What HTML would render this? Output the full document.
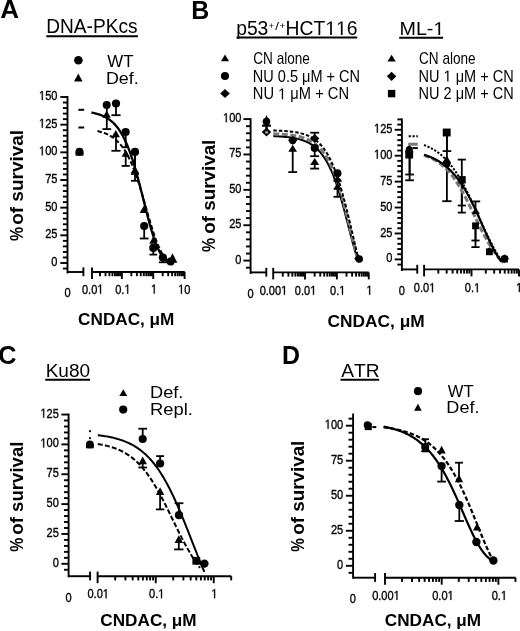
<!DOCTYPE html>
<html><head><meta charset="utf-8"><style>
html,body{margin:0;padding:0;background:#fff;}
body{width:520px;height:631px;overflow:hidden;font-family:"Liberation Sans", sans-serif;}
svg{display:block;filter:blur(0.3px);}
</style></head><body>
<svg width="520" height="631" viewBox="0 0 520 631" font-family="'Liberation Sans', sans-serif" style="font-kerning:none">
<rect width="520" height="631" fill="#fff"/>
<text transform="translate(0.25 17.6) scale(1 1)" font-size="26" font-weight="bold" fill="#000">A</text>
<text transform="translate(191.22 18.75) scale(0.96 1)" font-size="26" font-weight="bold" fill="#000">B</text>
<text transform="translate(-1.64 364) scale(0.97 1)" font-size="26" font-weight="bold" fill="#000">C</text>
<text transform="translate(281.99 363.65) scale(0.96 1)" font-size="26" font-weight="bold" fill="#000">D</text>
<text transform="translate(46.28 33.4) scale(0.99 1)" font-size="19.3" fill="#000">DNA-PKcs</text>
<line x1="46.3" y1="36.3" x2="137.9" y2="36.3" stroke="#000" stroke-width="2"/>
<text transform="translate(236.16 34.9) scale(1 1)" font-size="19.3" fill="#000">p53</text>
<text transform="translate(268.44 28.7) scale(1 1)" font-size="9.5" fill="#000">+</text>
<text transform="translate(275.3 29.6) scale(1.26 1)" font-size="10.6" fill="#000">/</text>
<text transform="translate(279.52 28.7) scale(1.04 1)" font-size="9.5" fill="#000">+</text>
<g transform="translate(285.62 34.9) scale(0.99 1)" font-size="19.5" fill="#000"><text x="0" y="0" xml:space="preserve">HCT</text><path d="M515 0L515 1237L197 1010L197 1180L530 1409L696 1409L696 0Z" transform="translate(40.08 0) scale(0.00952 -0.00952)"/><path d="M515 0L515 1237L197 1010L197 1180L530 1409L696 1409L696 0Z" transform="translate(50.92 0) scale(0.00952 -0.00952)"/><text x="61.77" y="0" xml:space="preserve">6</text></g>
<line x1="236.5" y1="37.6" x2="357.3" y2="37.6" stroke="#000" stroke-width="2"/>
<g transform="translate(399.49 35.1) scale(1.06 1)" font-size="18.6" fill="#000"><text x="0" y="0" xml:space="preserve">ML-</text><path d="M515 0L515 1237L197 1010L197 1180L530 1409L696 1409L696 0Z" transform="translate(32.03 0) scale(0.00908 -0.00908)"/></g>
<line x1="399.2" y1="37.75" x2="443.1" y2="37.75" stroke="#000" stroke-width="2"/>
<text transform="translate(45.64 376.8) scale(0.99 1)" font-size="19.2" fill="#000">Ku80</text>
<line x1="45.3" y1="379.8" x2="90" y2="379.8" stroke="#000" stroke-width="2"/>
<text transform="translate(341.26 376.8) scale(1 1)" font-size="19.2" fill="#000">ATR</text>
<line x1="340.5" y1="379.8" x2="379.2" y2="379.8" stroke="#000" stroke-width="2"/>
<circle cx="78.4" cy="60.3" r="4.3" fill="#000"/>
<text transform="translate(107.33 66.9) scale(0.98 1)" font-size="17.2" fill="#000">WT</text>
<polygon points="78.3,73.6 82.6,81.6 74,81.6" fill="#000"/>
<text transform="translate(105.94 84.1) scale(1.04 1)" font-size="17.2" fill="#000">Def.</text>
<polygon points="225,54.57 229.05,61.17 220.95,61.17" fill="#000"/>
<text transform="translate(253.31 63.5) scale(0.86 1)" font-size="15.8" fill="#000">CN alone</text>
<circle cx="225" cy="76" r="4.05" fill="#000"/>
<text transform="translate(252.8 81.6) scale(0.92 1)" font-size="15.8" fill="#000">NU 0.5 μM + CN</text>
<polygon points="225,89 229.8,93.5 225,98 220.2,93.5" fill="#000"/>
<g transform="translate(252.8 99.3) scale(0.93 1)" font-size="15.8" fill="#000"><text x="0" y="0" xml:space="preserve">NU </text><path d="M515 0L515 1237L197 1010L197 1180L530 1409L696 1409L696 0Z" transform="translate(27.21 0) scale(0.00771 -0.00771)"/><text x="36" y="0" xml:space="preserve"> μM + CN</text></g>
<polygon points="391.6,54.66 395.75,61.46 387.45,61.46" fill="#000"/>
<text transform="translate(419.01 63.5) scale(0.86 1)" font-size="15.8" fill="#000">CN alone</text>
<polygon points="391.6,71.7 396.3,76.3 391.6,80.9 386.9,76.3" fill="#000"/>
<g transform="translate(418.51 81.6) scale(0.92 1)" font-size="15.8" fill="#000"><text x="0" y="0" xml:space="preserve">NU </text><path d="M515 0L515 1237L197 1010L197 1180L530 1409L696 1409L696 0Z" transform="translate(27.21 0) scale(0.00771 -0.00771)"/><text x="36" y="0" xml:space="preserve"> μM + CN</text></g>
<rect x="387.9" y="89.9" width="7.4" height="7.4" fill="#000"/>
<text transform="translate(418.51 99.3) scale(0.92 1)" font-size="15.8" fill="#000">NU 2 μM + CN</text>
<polygon points="123.3,389.26 127.3,396.06 119.3,396.06" fill="#000"/>
<text transform="translate(150 398.2) scale(1.07 1)" font-size="17" fill="#000">Def.</text>
<circle cx="123.2" cy="409.6" r="4.1" fill="#000"/>
<text transform="translate(150 415) scale(1.08 1)" font-size="17" fill="#000">Repl.</text>
<circle cx="418" cy="391.2" r="4.1" fill="#000"/>
<text transform="translate(447.73 397) scale(1 1)" font-size="16.6" fill="#000">WT</text>
<polygon points="417.9,403.86 421.7,410.66 414.1,410.66" fill="#000"/>
<text transform="translate(446.32 412.5) scale(1.09 1)" font-size="16.6" fill="#000">Def.</text>
<text transform="translate(22.6 240.99) rotate(-90) scale(0.9 1)" font-size="17.6" font-weight="bold">%</text>
<text transform="translate(22.6 224.84) rotate(-90) scale(1.08 1)" font-size="17.6" font-weight="bold">of survival</text>
<text transform="translate(214.5 252) rotate(-90) scale(0.9 1)" font-size="17.6" font-weight="bold">%</text>
<text transform="translate(214.5 233.83) rotate(-90) scale(1.07 1)" font-size="17.6" font-weight="bold">of survival</text>
<text transform="translate(22.6 551.79) rotate(-90) scale(0.9 1)" font-size="17.6" font-weight="bold">%</text>
<text transform="translate(22.6 534.73) rotate(-90) scale(1.06 1)" font-size="17.6" font-weight="bold">of survival</text>
<text transform="translate(304 551.78) rotate(-90) scale(0.87 1)" font-size="17.6" font-weight="bold">%</text>
<text transform="translate(304 534.83) rotate(-90) scale(1.07 1)" font-size="17.6" font-weight="bold">of survival</text>
<text transform="translate(78.09 325.2) scale(1.06 1)" font-size="16.2" font-weight="bold" fill="#000">CNDAC, μM</text>
<text transform="translate(327.49 326.8) scale(1.07 1)" font-size="16.2" font-weight="bold" fill="#000">CNDAC, μM</text>
<text transform="translate(100.3 625.8) scale(1.06 1)" font-size="16.2" font-weight="bold" fill="#000">CNDAC, μM</text>
<text transform="translate(384.8 625.8) scale(1.06 1)" font-size="16.2" font-weight="bold" fill="#000">CNDAC, μM</text>
<line x1="67.5" y1="97" x2="67.5" y2="272.5" stroke="#000" stroke-width="1.9" stroke-linecap="square"/>
<line x1="62.9" y1="268.53" x2="67.5" y2="268.53" stroke="#000" stroke-width="1.9"/>
<line x1="60.3" y1="263" x2="67.5" y2="263" stroke="#000" stroke-width="1.9"/>
<text transform="translate(51.29 266.04) scale(0.85 1)" font-size="13" stroke="#000" stroke-width="0.35" stroke-linejoin="round" fill="#000">0</text>
<line x1="62.9" y1="257.47" x2="67.5" y2="257.47" stroke="#000" stroke-width="1.9"/>
<line x1="62.9" y1="251.93" x2="67.5" y2="251.93" stroke="#000" stroke-width="1.9"/>
<line x1="62.9" y1="246.4" x2="67.5" y2="246.4" stroke="#000" stroke-width="1.9"/>
<line x1="62.9" y1="240.87" x2="67.5" y2="240.87" stroke="#000" stroke-width="1.9"/>
<line x1="60.3" y1="235.33" x2="67.5" y2="235.33" stroke="#000" stroke-width="1.9"/>
<text transform="translate(45.17 238.37) scale(0.85 1)" font-size="13" stroke="#000" stroke-width="0.35" stroke-linejoin="round" fill="#000">25</text>
<line x1="62.9" y1="229.8" x2="67.5" y2="229.8" stroke="#000" stroke-width="1.9"/>
<line x1="62.9" y1="224.27" x2="67.5" y2="224.27" stroke="#000" stroke-width="1.9"/>
<line x1="62.9" y1="218.73" x2="67.5" y2="218.73" stroke="#000" stroke-width="1.9"/>
<line x1="62.9" y1="213.2" x2="67.5" y2="213.2" stroke="#000" stroke-width="1.9"/>
<line x1="60.3" y1="207.66" x2="67.5" y2="207.66" stroke="#000" stroke-width="1.9"/>
<text transform="translate(45.14 210.7) scale(0.85 1)" font-size="13" stroke="#000" stroke-width="0.35" stroke-linejoin="round" fill="#000">50</text>
<line x1="62.9" y1="202.13" x2="67.5" y2="202.13" stroke="#000" stroke-width="1.9"/>
<line x1="62.9" y1="196.6" x2="67.5" y2="196.6" stroke="#000" stroke-width="1.9"/>
<line x1="62.9" y1="191.06" x2="67.5" y2="191.06" stroke="#000" stroke-width="1.9"/>
<line x1="62.9" y1="185.53" x2="67.5" y2="185.53" stroke="#000" stroke-width="1.9"/>
<line x1="60.3" y1="180" x2="67.5" y2="180" stroke="#000" stroke-width="1.9"/>
<text transform="translate(45.17 182.97) scale(0.85 1)" font-size="13" stroke="#000" stroke-width="0.35" stroke-linejoin="round" fill="#000">75</text>
<line x1="62.9" y1="174.46" x2="67.5" y2="174.46" stroke="#000" stroke-width="1.9"/>
<line x1="62.9" y1="168.93" x2="67.5" y2="168.93" stroke="#000" stroke-width="1.9"/>
<line x1="62.9" y1="163.4" x2="67.5" y2="163.4" stroke="#000" stroke-width="1.9"/>
<line x1="62.9" y1="157.86" x2="67.5" y2="157.86" stroke="#000" stroke-width="1.9"/>
<line x1="60.3" y1="152.33" x2="67.5" y2="152.33" stroke="#000" stroke-width="1.9"/>
<g transform="translate(39 155.37) scale(0.85 1)" font-size="13" fill="#000" stroke="#000" stroke-width="0.35" stroke-linejoin="round"><path d="M515 0L515 1237L197 1010L197 1180L530 1409L696 1409L696 0Z" transform="translate(0 0) scale(0.00635 -0.00635)" stroke-width="55.14"/><text x="7.23" y="0" xml:space="preserve">00</text></g>
<line x1="62.9" y1="146.8" x2="67.5" y2="146.8" stroke="#000" stroke-width="1.9"/>
<line x1="62.9" y1="141.26" x2="67.5" y2="141.26" stroke="#000" stroke-width="1.9"/>
<line x1="62.9" y1="135.73" x2="67.5" y2="135.73" stroke="#000" stroke-width="1.9"/>
<line x1="62.9" y1="130.2" x2="67.5" y2="130.2" stroke="#000" stroke-width="1.9"/>
<line x1="60.3" y1="124.66" x2="67.5" y2="124.66" stroke="#000" stroke-width="1.9"/>
<g transform="translate(39.03 127.7) scale(0.85 1)" font-size="13" fill="#000" stroke="#000" stroke-width="0.35" stroke-linejoin="round"><path d="M515 0L515 1237L197 1010L197 1180L530 1409L696 1409L696 0Z" transform="translate(0 0) scale(0.00635 -0.00635)" stroke-width="55.14"/><text x="7.23" y="0" xml:space="preserve">25</text></g>
<line x1="62.9" y1="119.13" x2="67.5" y2="119.13" stroke="#000" stroke-width="1.9"/>
<line x1="62.9" y1="113.6" x2="67.5" y2="113.6" stroke="#000" stroke-width="1.9"/>
<line x1="62.9" y1="108.06" x2="67.5" y2="108.06" stroke="#000" stroke-width="1.9"/>
<line x1="62.9" y1="102.53" x2="67.5" y2="102.53" stroke="#000" stroke-width="1.9"/>
<line x1="60.3" y1="97" x2="67.5" y2="97" stroke="#000" stroke-width="1.9"/>
<g transform="translate(39 100.03) scale(0.85 1)" font-size="13" fill="#000" stroke="#000" stroke-width="0.35" stroke-linejoin="round"><path d="M515 0L515 1237L197 1010L197 1180L530 1409L696 1409L696 0Z" transform="translate(0 0) scale(0.00635 -0.00635)" stroke-width="55.14"/><text x="7.23" y="0" xml:space="preserve">50</text></g>
<line x1="67.5" y1="272" x2="83.4" y2="272" stroke="#000" stroke-width="1.9"/>
<line x1="83.4" y1="267.4" x2="83.4" y2="276.2" stroke="#000" stroke-width="1.9"/>
<line x1="92" y1="272" x2="184.8" y2="272" stroke="#000" stroke-width="1.9"/>
<line x1="92" y1="267.4" x2="92" y2="279" stroke="#000" stroke-width="1.9"/>
<line x1="99.99" y1="272" x2="99.99" y2="276.2" stroke="#000" stroke-width="1.9"/>
<line x1="105.51" y1="272" x2="105.51" y2="276.2" stroke="#000" stroke-width="1.9"/>
<line x1="109.42" y1="272" x2="109.42" y2="276.2" stroke="#000" stroke-width="1.9"/>
<line x1="112.46" y1="272" x2="112.46" y2="276.2" stroke="#000" stroke-width="1.9"/>
<line x1="114.95" y1="272" x2="114.95" y2="276.2" stroke="#000" stroke-width="1.9"/>
<line x1="117.04" y1="272" x2="117.04" y2="276.2" stroke="#000" stroke-width="1.9"/>
<line x1="118.86" y1="272" x2="118.86" y2="276.2" stroke="#000" stroke-width="1.9"/>
<line x1="120.47" y1="272" x2="120.47" y2="276.2" stroke="#000" stroke-width="1.9"/>
<line x1="121.9" y1="272" x2="121.9" y2="279" stroke="#000" stroke-width="1.9"/>
<line x1="131.34" y1="272" x2="131.34" y2="276.2" stroke="#000" stroke-width="1.9"/>
<line x1="136.86" y1="272" x2="136.86" y2="276.2" stroke="#000" stroke-width="1.9"/>
<line x1="140.77" y1="272" x2="140.77" y2="276.2" stroke="#000" stroke-width="1.9"/>
<line x1="143.81" y1="272" x2="143.81" y2="276.2" stroke="#000" stroke-width="1.9"/>
<line x1="146.3" y1="272" x2="146.3" y2="276.2" stroke="#000" stroke-width="1.9"/>
<line x1="148.39" y1="272" x2="148.39" y2="276.2" stroke="#000" stroke-width="1.9"/>
<line x1="150.21" y1="272" x2="150.21" y2="276.2" stroke="#000" stroke-width="1.9"/>
<line x1="151.82" y1="272" x2="151.82" y2="276.2" stroke="#000" stroke-width="1.9"/>
<line x1="153.25" y1="272" x2="153.25" y2="279" stroke="#000" stroke-width="1.9"/>
<line x1="162.69" y1="272" x2="162.69" y2="276.2" stroke="#000" stroke-width="1.9"/>
<line x1="168.21" y1="272" x2="168.21" y2="276.2" stroke="#000" stroke-width="1.9"/>
<line x1="172.12" y1="272" x2="172.12" y2="276.2" stroke="#000" stroke-width="1.9"/>
<line x1="175.16" y1="272" x2="175.16" y2="276.2" stroke="#000" stroke-width="1.9"/>
<line x1="177.65" y1="272" x2="177.65" y2="276.2" stroke="#000" stroke-width="1.9"/>
<line x1="179.74" y1="272" x2="179.74" y2="276.2" stroke="#000" stroke-width="1.9"/>
<line x1="181.56" y1="272" x2="181.56" y2="276.2" stroke="#000" stroke-width="1.9"/>
<line x1="183.17" y1="272" x2="183.17" y2="276.2" stroke="#000" stroke-width="1.9"/>
<line x1="184.6" y1="272" x2="184.6" y2="279" stroke="#000" stroke-width="1.9"/>
<text transform="translate(64.43 297.04) scale(0.85 1)" font-size="13" stroke="#000" stroke-width="0.35" stroke-linejoin="round" fill="#000">0</text>
<g transform="translate(81.93 293.64) scale(0.85 1)" font-size="13" fill="#000" stroke="#000" stroke-width="0.35" stroke-linejoin="round"><text x="0" y="0" xml:space="preserve">0.0</text><path d="M515 0L515 1237L197 1010L197 1180L530 1409L696 1409L696 0Z" transform="translate(18.07 0) scale(0.00635 -0.00635)" stroke-width="55.14"/></g>
<g transform="translate(115.2 293.64) scale(0.85 1)" font-size="13" fill="#000" stroke="#000" stroke-width="0.35" stroke-linejoin="round"><text x="0" y="0" xml:space="preserve">0.</text><path d="M515 0L515 1237L197 1010L197 1180L530 1409L696 1409L696 0Z" transform="translate(10.84 0) scale(0.00635 -0.00635)" stroke-width="55.14"/></g>
<g transform="translate(150.99 293.57) scale(0.85 1)" font-size="13" fill="#000" stroke="#000" stroke-width="0.35" stroke-linejoin="round"><path d="M515 0L515 1237L197 1010L197 1180L530 1409L696 1409L696 0Z" transform="translate(0 0) scale(0.00635 -0.00635)" stroke-width="55.14"/></g>
<g transform="translate(178.14 293.64) scale(0.85 1)" font-size="13" fill="#000" stroke="#000" stroke-width="0.35" stroke-linejoin="round"><path d="M515 0L515 1237L197 1010L197 1180L530 1409L696 1409L696 0Z" transform="translate(0 0) scale(0.00635 -0.00635)" stroke-width="55.14"/><text x="7.23" y="0" xml:space="preserve">0</text></g>
<line x1="250.6" y1="119.1" x2="250.6" y2="273" stroke="#000" stroke-width="1.9" stroke-linecap="square"/>
<line x1="246" y1="267.68" x2="250.6" y2="267.68" stroke="#000" stroke-width="1.9"/>
<line x1="243.4" y1="260.6" x2="250.6" y2="260.6" stroke="#000" stroke-width="1.9"/>
<text transform="translate(235.29 263.64) scale(0.85 1)" font-size="13" stroke="#000" stroke-width="0.35" stroke-linejoin="round" fill="#000">0</text>
<line x1="246" y1="253.53" x2="250.6" y2="253.53" stroke="#000" stroke-width="1.9"/>
<line x1="246" y1="246.45" x2="250.6" y2="246.45" stroke="#000" stroke-width="1.9"/>
<line x1="246" y1="239.38" x2="250.6" y2="239.38" stroke="#000" stroke-width="1.9"/>
<line x1="246" y1="232.3" x2="250.6" y2="232.3" stroke="#000" stroke-width="1.9"/>
<line x1="243.4" y1="225.23" x2="250.6" y2="225.23" stroke="#000" stroke-width="1.9"/>
<text transform="translate(229.17 228.26) scale(0.85 1)" font-size="13" stroke="#000" stroke-width="0.35" stroke-linejoin="round" fill="#000">25</text>
<line x1="246" y1="218.15" x2="250.6" y2="218.15" stroke="#000" stroke-width="1.9"/>
<line x1="246" y1="211.08" x2="250.6" y2="211.08" stroke="#000" stroke-width="1.9"/>
<line x1="246" y1="204" x2="250.6" y2="204" stroke="#000" stroke-width="1.9"/>
<line x1="246" y1="196.93" x2="250.6" y2="196.93" stroke="#000" stroke-width="1.9"/>
<line x1="243.4" y1="189.85" x2="250.6" y2="189.85" stroke="#000" stroke-width="1.9"/>
<text transform="translate(229.14 192.89) scale(0.85 1)" font-size="13" stroke="#000" stroke-width="0.35" stroke-linejoin="round" fill="#000">50</text>
<line x1="246" y1="182.78" x2="250.6" y2="182.78" stroke="#000" stroke-width="1.9"/>
<line x1="246" y1="175.7" x2="250.6" y2="175.7" stroke="#000" stroke-width="1.9"/>
<line x1="246" y1="168.62" x2="250.6" y2="168.62" stroke="#000" stroke-width="1.9"/>
<line x1="246" y1="161.55" x2="250.6" y2="161.55" stroke="#000" stroke-width="1.9"/>
<line x1="243.4" y1="154.48" x2="250.6" y2="154.48" stroke="#000" stroke-width="1.9"/>
<text transform="translate(229.17 157.45) scale(0.85 1)" font-size="13" stroke="#000" stroke-width="0.35" stroke-linejoin="round" fill="#000">75</text>
<line x1="246" y1="147.4" x2="250.6" y2="147.4" stroke="#000" stroke-width="1.9"/>
<line x1="246" y1="140.33" x2="250.6" y2="140.33" stroke="#000" stroke-width="1.9"/>
<line x1="246" y1="133.25" x2="250.6" y2="133.25" stroke="#000" stroke-width="1.9"/>
<line x1="246" y1="126.18" x2="250.6" y2="126.18" stroke="#000" stroke-width="1.9"/>
<line x1="243.4" y1="119.1" x2="250.6" y2="119.1" stroke="#000" stroke-width="1.9"/>
<g transform="translate(223 122.14) scale(0.85 1)" font-size="13" fill="#000" stroke="#000" stroke-width="0.35" stroke-linejoin="round"><path d="M515 0L515 1237L197 1010L197 1180L530 1409L696 1409L696 0Z" transform="translate(0 0) scale(0.00635 -0.00635)" stroke-width="55.14"/><text x="7.23" y="0" xml:space="preserve">00</text></g>
<line x1="250.6" y1="272.4" x2="266.3" y2="272.4" stroke="#000" stroke-width="1.9"/>
<line x1="266.3" y1="267.8" x2="266.3" y2="276.6" stroke="#000" stroke-width="1.9"/>
<line x1="273.2" y1="272.4" x2="368.75" y2="272.4" stroke="#000" stroke-width="1.9"/>
<line x1="273.2" y1="267.8" x2="273.2" y2="279.4" stroke="#000" stroke-width="1.9"/>
<line x1="282.79" y1="272.4" x2="282.79" y2="276.6" stroke="#000" stroke-width="1.9"/>
<line x1="288.4" y1="272.4" x2="288.4" y2="276.6" stroke="#000" stroke-width="1.9"/>
<line x1="292.38" y1="272.4" x2="292.38" y2="276.6" stroke="#000" stroke-width="1.9"/>
<line x1="295.46" y1="272.4" x2="295.46" y2="276.6" stroke="#000" stroke-width="1.9"/>
<line x1="297.98" y1="272.4" x2="297.98" y2="276.6" stroke="#000" stroke-width="1.9"/>
<line x1="300.12" y1="272.4" x2="300.12" y2="276.6" stroke="#000" stroke-width="1.9"/>
<line x1="301.96" y1="272.4" x2="301.96" y2="276.6" stroke="#000" stroke-width="1.9"/>
<line x1="303.59" y1="272.4" x2="303.59" y2="276.6" stroke="#000" stroke-width="1.9"/>
<line x1="305.05" y1="272.4" x2="305.05" y2="279.4" stroke="#000" stroke-width="1.9"/>
<line x1="314.64" y1="272.4" x2="314.64" y2="276.6" stroke="#000" stroke-width="1.9"/>
<line x1="320.25" y1="272.4" x2="320.25" y2="276.6" stroke="#000" stroke-width="1.9"/>
<line x1="324.23" y1="272.4" x2="324.23" y2="276.6" stroke="#000" stroke-width="1.9"/>
<line x1="327.31" y1="272.4" x2="327.31" y2="276.6" stroke="#000" stroke-width="1.9"/>
<line x1="329.83" y1="272.4" x2="329.83" y2="276.6" stroke="#000" stroke-width="1.9"/>
<line x1="331.97" y1="272.4" x2="331.97" y2="276.6" stroke="#000" stroke-width="1.9"/>
<line x1="333.81" y1="272.4" x2="333.81" y2="276.6" stroke="#000" stroke-width="1.9"/>
<line x1="335.44" y1="272.4" x2="335.44" y2="276.6" stroke="#000" stroke-width="1.9"/>
<line x1="336.9" y1="272.4" x2="336.9" y2="279.4" stroke="#000" stroke-width="1.9"/>
<line x1="346.49" y1="272.4" x2="346.49" y2="276.6" stroke="#000" stroke-width="1.9"/>
<line x1="352.1" y1="272.4" x2="352.1" y2="276.6" stroke="#000" stroke-width="1.9"/>
<line x1="356.08" y1="272.4" x2="356.08" y2="276.6" stroke="#000" stroke-width="1.9"/>
<line x1="359.16" y1="272.4" x2="359.16" y2="276.6" stroke="#000" stroke-width="1.9"/>
<line x1="361.68" y1="272.4" x2="361.68" y2="276.6" stroke="#000" stroke-width="1.9"/>
<line x1="363.82" y1="272.4" x2="363.82" y2="276.6" stroke="#000" stroke-width="1.9"/>
<line x1="365.66" y1="272.4" x2="365.66" y2="276.6" stroke="#000" stroke-width="1.9"/>
<line x1="367.29" y1="272.4" x2="367.29" y2="276.6" stroke="#000" stroke-width="1.9"/>
<line x1="368.75" y1="272.4" x2="368.75" y2="279.4" stroke="#000" stroke-width="1.9"/>
<text transform="translate(247.43 298.24) scale(0.85 1)" font-size="13" stroke="#000" stroke-width="0.35" stroke-linejoin="round" fill="#000">0</text>
<g transform="translate(259.65 294.84) scale(0.85 1)" font-size="13" fill="#000" stroke="#000" stroke-width="0.35" stroke-linejoin="round"><text x="0" y="0" xml:space="preserve">0.00</text><path d="M515 0L515 1237L197 1010L197 1180L530 1409L696 1409L696 0Z" transform="translate(25.3 0) scale(0.00635 -0.00635)" stroke-width="55.14"/></g>
<g transform="translate(294.83 294.84) scale(0.85 1)" font-size="13" fill="#000" stroke="#000" stroke-width="0.35" stroke-linejoin="round"><text x="0" y="0" xml:space="preserve">0.0</text><path d="M515 0L515 1237L197 1010L197 1180L530 1409L696 1409L696 0Z" transform="translate(18.07 0) scale(0.00635 -0.00635)" stroke-width="55.14"/></g>
<g transform="translate(330 294.84) scale(0.85 1)" font-size="13" fill="#000" stroke="#000" stroke-width="0.35" stroke-linejoin="round"><text x="0" y="0" xml:space="preserve">0.</text><path d="M515 0L515 1237L197 1010L197 1180L530 1409L696 1409L696 0Z" transform="translate(10.84 0) scale(0.00635 -0.00635)" stroke-width="55.14"/></g>
<g transform="translate(366.39 294.77) scale(0.85 1)" font-size="13" fill="#000" stroke="#000" stroke-width="0.35" stroke-linejoin="round"><path d="M515 0L515 1237L197 1010L197 1180L530 1409L696 1409L696 0Z" transform="translate(0 0) scale(0.00635 -0.00635)" stroke-width="55.14"/></g>
<line x1="401.9" y1="119.41" x2="401.9" y2="270" stroke="#000" stroke-width="1.9" stroke-linecap="square"/>
<line x1="397.3" y1="264.58" x2="401.9" y2="264.58" stroke="#000" stroke-width="1.9"/>
<line x1="394.7" y1="259.4" x2="401.9" y2="259.4" stroke="#000" stroke-width="1.9"/>
<text transform="translate(386.29 262.44) scale(0.85 1)" font-size="13" stroke="#000" stroke-width="0.35" stroke-linejoin="round" fill="#000">0</text>
<line x1="397.3" y1="254.21" x2="401.9" y2="254.21" stroke="#000" stroke-width="1.9"/>
<line x1="397.3" y1="249.03" x2="401.9" y2="249.03" stroke="#000" stroke-width="1.9"/>
<line x1="397.3" y1="243.84" x2="401.9" y2="243.84" stroke="#000" stroke-width="1.9"/>
<line x1="397.3" y1="238.66" x2="401.9" y2="238.66" stroke="#000" stroke-width="1.9"/>
<line x1="394.7" y1="233.47" x2="401.9" y2="233.47" stroke="#000" stroke-width="1.9"/>
<text transform="translate(380.17 236.51) scale(0.85 1)" font-size="13" stroke="#000" stroke-width="0.35" stroke-linejoin="round" fill="#000">25</text>
<line x1="397.3" y1="228.29" x2="401.9" y2="228.29" stroke="#000" stroke-width="1.9"/>
<line x1="397.3" y1="223.1" x2="401.9" y2="223.1" stroke="#000" stroke-width="1.9"/>
<line x1="397.3" y1="217.92" x2="401.9" y2="217.92" stroke="#000" stroke-width="1.9"/>
<line x1="397.3" y1="212.73" x2="401.9" y2="212.73" stroke="#000" stroke-width="1.9"/>
<line x1="394.7" y1="207.55" x2="401.9" y2="207.55" stroke="#000" stroke-width="1.9"/>
<text transform="translate(380.14 210.59) scale(0.85 1)" font-size="13" stroke="#000" stroke-width="0.35" stroke-linejoin="round" fill="#000">50</text>
<line x1="397.3" y1="202.36" x2="401.9" y2="202.36" stroke="#000" stroke-width="1.9"/>
<line x1="397.3" y1="197.18" x2="401.9" y2="197.18" stroke="#000" stroke-width="1.9"/>
<line x1="397.3" y1="191.99" x2="401.9" y2="191.99" stroke="#000" stroke-width="1.9"/>
<line x1="397.3" y1="186.81" x2="401.9" y2="186.81" stroke="#000" stroke-width="1.9"/>
<line x1="394.7" y1="181.62" x2="401.9" y2="181.62" stroke="#000" stroke-width="1.9"/>
<text transform="translate(380.17 184.6) scale(0.85 1)" font-size="13" stroke="#000" stroke-width="0.35" stroke-linejoin="round" fill="#000">75</text>
<line x1="397.3" y1="176.44" x2="401.9" y2="176.44" stroke="#000" stroke-width="1.9"/>
<line x1="397.3" y1="171.25" x2="401.9" y2="171.25" stroke="#000" stroke-width="1.9"/>
<line x1="397.3" y1="166.07" x2="401.9" y2="166.07" stroke="#000" stroke-width="1.9"/>
<line x1="397.3" y1="160.88" x2="401.9" y2="160.88" stroke="#000" stroke-width="1.9"/>
<line x1="394.7" y1="155.7" x2="401.9" y2="155.7" stroke="#000" stroke-width="1.9"/>
<g transform="translate(374 158.74) scale(0.85 1)" font-size="13" fill="#000" stroke="#000" stroke-width="0.35" stroke-linejoin="round"><path d="M515 0L515 1237L197 1010L197 1180L530 1409L696 1409L696 0Z" transform="translate(0 0) scale(0.00635 -0.00635)" stroke-width="55.14"/><text x="7.23" y="0" xml:space="preserve">00</text></g>
<line x1="397.3" y1="150.51" x2="401.9" y2="150.51" stroke="#000" stroke-width="1.9"/>
<line x1="397.3" y1="145.33" x2="401.9" y2="145.33" stroke="#000" stroke-width="1.9"/>
<line x1="397.3" y1="140.14" x2="401.9" y2="140.14" stroke="#000" stroke-width="1.9"/>
<line x1="397.3" y1="134.96" x2="401.9" y2="134.96" stroke="#000" stroke-width="1.9"/>
<line x1="394.7" y1="129.77" x2="401.9" y2="129.77" stroke="#000" stroke-width="1.9"/>
<g transform="translate(374.03 132.81) scale(0.85 1)" font-size="13" fill="#000" stroke="#000" stroke-width="0.35" stroke-linejoin="round"><path d="M515 0L515 1237L197 1010L197 1180L530 1409L696 1409L696 0Z" transform="translate(0 0) scale(0.00635 -0.00635)" stroke-width="55.14"/><text x="7.23" y="0" xml:space="preserve">25</text></g>
<line x1="397.3" y1="124.59" x2="401.9" y2="124.59" stroke="#000" stroke-width="1.9"/>
<line x1="397.3" y1="119.41" x2="401.9" y2="119.41" stroke="#000" stroke-width="1.9"/>
<line x1="401.9" y1="269.4" x2="417.25" y2="269.4" stroke="#000" stroke-width="1.9"/>
<line x1="417.25" y1="264.8" x2="417.25" y2="273.6" stroke="#000" stroke-width="1.9"/>
<line x1="424.1" y1="269.4" x2="519" y2="269.4" stroke="#000" stroke-width="1.9"/>
<line x1="424.1" y1="264.8" x2="424.1" y2="276.4" stroke="#000" stroke-width="1.9"/>
<line x1="438.3" y1="269.4" x2="438.3" y2="273.6" stroke="#000" stroke-width="1.9"/>
<line x1="446.66" y1="269.4" x2="446.66" y2="273.6" stroke="#000" stroke-width="1.9"/>
<line x1="452.6" y1="269.4" x2="452.6" y2="273.6" stroke="#000" stroke-width="1.9"/>
<line x1="457.2" y1="269.4" x2="457.2" y2="273.6" stroke="#000" stroke-width="1.9"/>
<line x1="460.96" y1="269.4" x2="460.96" y2="273.6" stroke="#000" stroke-width="1.9"/>
<line x1="464.14" y1="269.4" x2="464.14" y2="273.6" stroke="#000" stroke-width="1.9"/>
<line x1="466.9" y1="269.4" x2="466.9" y2="273.6" stroke="#000" stroke-width="1.9"/>
<line x1="469.33" y1="269.4" x2="469.33" y2="273.6" stroke="#000" stroke-width="1.9"/>
<line x1="471.5" y1="269.4" x2="471.5" y2="276.4" stroke="#000" stroke-width="1.9"/>
<line x1="485.8" y1="269.4" x2="485.8" y2="273.6" stroke="#000" stroke-width="1.9"/>
<line x1="494.16" y1="269.4" x2="494.16" y2="273.6" stroke="#000" stroke-width="1.9"/>
<line x1="500.1" y1="269.4" x2="500.1" y2="273.6" stroke="#000" stroke-width="1.9"/>
<line x1="504.7" y1="269.4" x2="504.7" y2="273.6" stroke="#000" stroke-width="1.9"/>
<line x1="508.46" y1="269.4" x2="508.46" y2="273.6" stroke="#000" stroke-width="1.9"/>
<line x1="511.64" y1="269.4" x2="511.64" y2="273.6" stroke="#000" stroke-width="1.9"/>
<line x1="514.4" y1="269.4" x2="514.4" y2="273.6" stroke="#000" stroke-width="1.9"/>
<line x1="516.83" y1="269.4" x2="516.83" y2="273.6" stroke="#000" stroke-width="1.9"/>
<line x1="519" y1="269.4" x2="519" y2="276.4" stroke="#000" stroke-width="1.9"/>
<text transform="translate(398.83 294.84) scale(0.85 1)" font-size="13" stroke="#000" stroke-width="0.35" stroke-linejoin="round" fill="#000">0</text>
<g transform="translate(413.83 292.14) scale(0.85 1)" font-size="13" fill="#000" stroke="#000" stroke-width="0.35" stroke-linejoin="round"><text x="0" y="0" xml:space="preserve">0.0</text><path d="M515 0L515 1237L197 1010L197 1180L530 1409L696 1409L696 0Z" transform="translate(18.07 0) scale(0.00635 -0.00635)" stroke-width="55.14"/></g>
<g transform="translate(464.8 292.14) scale(0.85 1)" font-size="13" fill="#000" stroke="#000" stroke-width="0.35" stroke-linejoin="round"><text x="0" y="0" xml:space="preserve">0.</text><path d="M515 0L515 1237L197 1010L197 1180L530 1409L696 1409L696 0Z" transform="translate(10.84 0) scale(0.00635 -0.00635)" stroke-width="55.14"/></g>
<g transform="translate(516.09 292.07) scale(0.85 1)" font-size="13" fill="#000" stroke="#000" stroke-width="0.35" stroke-linejoin="round"><path d="M515 0L515 1237L197 1010L197 1180L530 1409L696 1409L696 0Z" transform="translate(0 0) scale(0.00635 -0.00635)" stroke-width="55.14"/></g>
<line x1="68.6" y1="414.55" x2="68.6" y2="576.3" stroke="#000" stroke-width="1.9" stroke-linecap="square"/>
<line x1="64" y1="569.77" x2="68.6" y2="569.77" stroke="#000" stroke-width="1.9"/>
<line x1="61.4" y1="563.8" x2="68.6" y2="563.8" stroke="#000" stroke-width="1.9"/>
<text transform="translate(52.69 566.84) scale(0.85 1)" font-size="13" stroke="#000" stroke-width="0.35" stroke-linejoin="round" fill="#000">0</text>
<line x1="64" y1="557.83" x2="68.6" y2="557.83" stroke="#000" stroke-width="1.9"/>
<line x1="64" y1="551.86" x2="68.6" y2="551.86" stroke="#000" stroke-width="1.9"/>
<line x1="64" y1="545.89" x2="68.6" y2="545.89" stroke="#000" stroke-width="1.9"/>
<line x1="64" y1="539.92" x2="68.6" y2="539.92" stroke="#000" stroke-width="1.9"/>
<line x1="61.4" y1="533.95" x2="68.6" y2="533.95" stroke="#000" stroke-width="1.9"/>
<text transform="translate(46.57 536.99) scale(0.85 1)" font-size="13" stroke="#000" stroke-width="0.35" stroke-linejoin="round" fill="#000">25</text>
<line x1="64" y1="527.98" x2="68.6" y2="527.98" stroke="#000" stroke-width="1.9"/>
<line x1="64" y1="522.01" x2="68.6" y2="522.01" stroke="#000" stroke-width="1.9"/>
<line x1="64" y1="516.04" x2="68.6" y2="516.04" stroke="#000" stroke-width="1.9"/>
<line x1="64" y1="510.07" x2="68.6" y2="510.07" stroke="#000" stroke-width="1.9"/>
<line x1="61.4" y1="504.1" x2="68.6" y2="504.1" stroke="#000" stroke-width="1.9"/>
<text transform="translate(46.54 507.14) scale(0.85 1)" font-size="13" stroke="#000" stroke-width="0.35" stroke-linejoin="round" fill="#000">50</text>
<line x1="64" y1="498.13" x2="68.6" y2="498.13" stroke="#000" stroke-width="1.9"/>
<line x1="64" y1="492.16" x2="68.6" y2="492.16" stroke="#000" stroke-width="1.9"/>
<line x1="64" y1="486.19" x2="68.6" y2="486.19" stroke="#000" stroke-width="1.9"/>
<line x1="64" y1="480.22" x2="68.6" y2="480.22" stroke="#000" stroke-width="1.9"/>
<line x1="61.4" y1="474.25" x2="68.6" y2="474.25" stroke="#000" stroke-width="1.9"/>
<text transform="translate(46.57 477.22) scale(0.85 1)" font-size="13" stroke="#000" stroke-width="0.35" stroke-linejoin="round" fill="#000">75</text>
<line x1="64" y1="468.28" x2="68.6" y2="468.28" stroke="#000" stroke-width="1.9"/>
<line x1="64" y1="462.31" x2="68.6" y2="462.31" stroke="#000" stroke-width="1.9"/>
<line x1="64" y1="456.34" x2="68.6" y2="456.34" stroke="#000" stroke-width="1.9"/>
<line x1="64" y1="450.37" x2="68.6" y2="450.37" stroke="#000" stroke-width="1.9"/>
<line x1="61.4" y1="444.4" x2="68.6" y2="444.4" stroke="#000" stroke-width="1.9"/>
<g transform="translate(40.4 447.44) scale(0.85 1)" font-size="13" fill="#000" stroke="#000" stroke-width="0.35" stroke-linejoin="round"><path d="M515 0L515 1237L197 1010L197 1180L530 1409L696 1409L696 0Z" transform="translate(0 0) scale(0.00635 -0.00635)" stroke-width="55.14"/><text x="7.23" y="0" xml:space="preserve">00</text></g>
<line x1="64" y1="438.43" x2="68.6" y2="438.43" stroke="#000" stroke-width="1.9"/>
<line x1="64" y1="432.46" x2="68.6" y2="432.46" stroke="#000" stroke-width="1.9"/>
<line x1="64" y1="426.49" x2="68.6" y2="426.49" stroke="#000" stroke-width="1.9"/>
<line x1="64" y1="420.52" x2="68.6" y2="420.52" stroke="#000" stroke-width="1.9"/>
<line x1="61.4" y1="414.55" x2="68.6" y2="414.55" stroke="#000" stroke-width="1.9"/>
<g transform="translate(40.43 417.59) scale(0.85 1)" font-size="13" fill="#000" stroke="#000" stroke-width="0.35" stroke-linejoin="round"><path d="M515 0L515 1237L197 1010L197 1180L530 1409L696 1409L696 0Z" transform="translate(0 0) scale(0.00635 -0.00635)" stroke-width="55.14"/><text x="7.23" y="0" xml:space="preserve">25</text></g>
<line x1="68.6" y1="576.2" x2="90.1" y2="576.2" stroke="#000" stroke-width="1.9"/>
<line x1="90.1" y1="571.6" x2="90.1" y2="580.4" stroke="#000" stroke-width="1.9"/>
<line x1="97.6" y1="576.2" x2="231.25" y2="576.2" stroke="#000" stroke-width="1.9"/>
<line x1="97.6" y1="571.6" x2="97.6" y2="583.2" stroke="#000" stroke-width="1.9"/>
<line x1="115.21" y1="576.2" x2="115.21" y2="580.4" stroke="#000" stroke-width="1.9"/>
<line x1="125.42" y1="576.2" x2="125.42" y2="580.4" stroke="#000" stroke-width="1.9"/>
<line x1="132.67" y1="576.2" x2="132.67" y2="580.4" stroke="#000" stroke-width="1.9"/>
<line x1="138.29" y1="576.2" x2="138.29" y2="580.4" stroke="#000" stroke-width="1.9"/>
<line x1="142.88" y1="576.2" x2="142.88" y2="580.4" stroke="#000" stroke-width="1.9"/>
<line x1="146.77" y1="576.2" x2="146.77" y2="580.4" stroke="#000" stroke-width="1.9"/>
<line x1="150.13" y1="576.2" x2="150.13" y2="580.4" stroke="#000" stroke-width="1.9"/>
<line x1="153.1" y1="576.2" x2="153.1" y2="580.4" stroke="#000" stroke-width="1.9"/>
<line x1="155.75" y1="576.2" x2="155.75" y2="583.2" stroke="#000" stroke-width="1.9"/>
<line x1="173.21" y1="576.2" x2="173.21" y2="580.4" stroke="#000" stroke-width="1.9"/>
<line x1="183.42" y1="576.2" x2="183.42" y2="580.4" stroke="#000" stroke-width="1.9"/>
<line x1="190.67" y1="576.2" x2="190.67" y2="580.4" stroke="#000" stroke-width="1.9"/>
<line x1="196.29" y1="576.2" x2="196.29" y2="580.4" stroke="#000" stroke-width="1.9"/>
<line x1="200.88" y1="576.2" x2="200.88" y2="580.4" stroke="#000" stroke-width="1.9"/>
<line x1="204.77" y1="576.2" x2="204.77" y2="580.4" stroke="#000" stroke-width="1.9"/>
<line x1="208.13" y1="576.2" x2="208.13" y2="580.4" stroke="#000" stroke-width="1.9"/>
<line x1="211.1" y1="576.2" x2="211.1" y2="580.4" stroke="#000" stroke-width="1.9"/>
<line x1="213.75" y1="576.2" x2="213.75" y2="583.2" stroke="#000" stroke-width="1.9"/>
<line x1="231.21" y1="576.2" x2="231.21" y2="580.4" stroke="#000" stroke-width="1.9"/>
<text transform="translate(65.53 601.74) scale(0.85 1)" font-size="13" stroke="#000" stroke-width="0.35" stroke-linejoin="round" fill="#000">0</text>
<g transform="translate(87.43 598.24) scale(0.85 1)" font-size="13" fill="#000" stroke="#000" stroke-width="0.35" stroke-linejoin="round"><text x="0" y="0" xml:space="preserve">0.0</text><path d="M515 0L515 1237L197 1010L197 1180L530 1409L696 1409L696 0Z" transform="translate(18.07 0) scale(0.00635 -0.00635)" stroke-width="55.14"/></g>
<g transform="translate(149.05 598.24) scale(0.85 1)" font-size="13" fill="#000" stroke="#000" stroke-width="0.35" stroke-linejoin="round"><text x="0" y="0" xml:space="preserve">0.</text><path d="M515 0L515 1237L197 1010L197 1180L530 1409L696 1409L696 0Z" transform="translate(10.84 0) scale(0.00635 -0.00635)" stroke-width="55.14"/></g>
<g transform="translate(211.34 598.17) scale(0.85 1)" font-size="13" fill="#000" stroke="#000" stroke-width="0.35" stroke-linejoin="round"><path d="M515 0L515 1237L197 1010L197 1180L530 1409L696 1409L696 0Z" transform="translate(0 0) scale(0.00635 -0.00635)" stroke-width="55.14"/></g>
<line x1="353.1" y1="414.47" x2="353.1" y2="577.8" stroke="#000" stroke-width="1.9" stroke-linecap="square"/>
<line x1="348.5" y1="572.81" x2="353.1" y2="572.81" stroke="#000" stroke-width="1.9"/>
<line x1="345.9" y1="565.8" x2="353.1" y2="565.8" stroke="#000" stroke-width="1.9"/>
<text transform="translate(337.09 568.84) scale(0.85 1)" font-size="13" stroke="#000" stroke-width="0.35" stroke-linejoin="round" fill="#000">0</text>
<line x1="348.5" y1="558.79" x2="353.1" y2="558.79" stroke="#000" stroke-width="1.9"/>
<line x1="348.5" y1="551.79" x2="353.1" y2="551.79" stroke="#000" stroke-width="1.9"/>
<line x1="348.5" y1="544.78" x2="353.1" y2="544.78" stroke="#000" stroke-width="1.9"/>
<line x1="348.5" y1="537.78" x2="353.1" y2="537.78" stroke="#000" stroke-width="1.9"/>
<line x1="345.9" y1="530.77" x2="353.1" y2="530.77" stroke="#000" stroke-width="1.9"/>
<text transform="translate(330.97 533.81) scale(0.85 1)" font-size="13" stroke="#000" stroke-width="0.35" stroke-linejoin="round" fill="#000">25</text>
<line x1="348.5" y1="523.76" x2="353.1" y2="523.76" stroke="#000" stroke-width="1.9"/>
<line x1="348.5" y1="516.76" x2="353.1" y2="516.76" stroke="#000" stroke-width="1.9"/>
<line x1="348.5" y1="509.75" x2="353.1" y2="509.75" stroke="#000" stroke-width="1.9"/>
<line x1="348.5" y1="502.75" x2="353.1" y2="502.75" stroke="#000" stroke-width="1.9"/>
<line x1="345.9" y1="495.74" x2="353.1" y2="495.74" stroke="#000" stroke-width="1.9"/>
<text transform="translate(330.94 498.78) scale(0.85 1)" font-size="13" stroke="#000" stroke-width="0.35" stroke-linejoin="round" fill="#000">50</text>
<line x1="348.5" y1="488.73" x2="353.1" y2="488.73" stroke="#000" stroke-width="1.9"/>
<line x1="348.5" y1="481.73" x2="353.1" y2="481.73" stroke="#000" stroke-width="1.9"/>
<line x1="348.5" y1="474.72" x2="353.1" y2="474.72" stroke="#000" stroke-width="1.9"/>
<line x1="348.5" y1="467.72" x2="353.1" y2="467.72" stroke="#000" stroke-width="1.9"/>
<line x1="345.9" y1="460.71" x2="353.1" y2="460.71" stroke="#000" stroke-width="1.9"/>
<text transform="translate(330.97 463.68) scale(0.85 1)" font-size="13" stroke="#000" stroke-width="0.35" stroke-linejoin="round" fill="#000">75</text>
<line x1="348.5" y1="453.7" x2="353.1" y2="453.7" stroke="#000" stroke-width="1.9"/>
<line x1="348.5" y1="446.7" x2="353.1" y2="446.7" stroke="#000" stroke-width="1.9"/>
<line x1="348.5" y1="439.69" x2="353.1" y2="439.69" stroke="#000" stroke-width="1.9"/>
<line x1="348.5" y1="432.69" x2="353.1" y2="432.69" stroke="#000" stroke-width="1.9"/>
<line x1="345.9" y1="425.68" x2="353.1" y2="425.68" stroke="#000" stroke-width="1.9"/>
<g transform="translate(324.8 428.72) scale(0.85 1)" font-size="13" fill="#000" stroke="#000" stroke-width="0.35" stroke-linejoin="round"><path d="M515 0L515 1237L197 1010L197 1180L530 1409L696 1409L696 0Z" transform="translate(0 0) scale(0.00635 -0.00635)" stroke-width="55.14"/><text x="7.23" y="0" xml:space="preserve">00</text></g>
<line x1="348.5" y1="418.67" x2="353.1" y2="418.67" stroke="#000" stroke-width="1.9"/>
<line x1="353.1" y1="577.7" x2="375.1" y2="577.7" stroke="#000" stroke-width="1.9"/>
<line x1="375.1" y1="573.1" x2="375.1" y2="581.9" stroke="#000" stroke-width="1.9"/>
<line x1="385" y1="577.7" x2="515.7" y2="577.7" stroke="#000" stroke-width="1.9"/>
<line x1="385" y1="573.1" x2="385" y2="584.7" stroke="#000" stroke-width="1.9"/>
<line x1="402.07" y1="577.7" x2="402.07" y2="581.9" stroke="#000" stroke-width="1.9"/>
<line x1="412.05" y1="577.7" x2="412.05" y2="581.9" stroke="#000" stroke-width="1.9"/>
<line x1="419.14" y1="577.7" x2="419.14" y2="581.9" stroke="#000" stroke-width="1.9"/>
<line x1="424.63" y1="577.7" x2="424.63" y2="581.9" stroke="#000" stroke-width="1.9"/>
<line x1="429.12" y1="577.7" x2="429.12" y2="581.9" stroke="#000" stroke-width="1.9"/>
<line x1="432.92" y1="577.7" x2="432.92" y2="581.9" stroke="#000" stroke-width="1.9"/>
<line x1="436.21" y1="577.7" x2="436.21" y2="581.9" stroke="#000" stroke-width="1.9"/>
<line x1="439.11" y1="577.7" x2="439.11" y2="581.9" stroke="#000" stroke-width="1.9"/>
<line x1="441.7" y1="577.7" x2="441.7" y2="584.7" stroke="#000" stroke-width="1.9"/>
<line x1="458.77" y1="577.7" x2="458.77" y2="581.9" stroke="#000" stroke-width="1.9"/>
<line x1="468.75" y1="577.7" x2="468.75" y2="581.9" stroke="#000" stroke-width="1.9"/>
<line x1="475.84" y1="577.7" x2="475.84" y2="581.9" stroke="#000" stroke-width="1.9"/>
<line x1="481.33" y1="577.7" x2="481.33" y2="581.9" stroke="#000" stroke-width="1.9"/>
<line x1="485.82" y1="577.7" x2="485.82" y2="581.9" stroke="#000" stroke-width="1.9"/>
<line x1="489.62" y1="577.7" x2="489.62" y2="581.9" stroke="#000" stroke-width="1.9"/>
<line x1="492.91" y1="577.7" x2="492.91" y2="581.9" stroke="#000" stroke-width="1.9"/>
<line x1="495.81" y1="577.7" x2="495.81" y2="581.9" stroke="#000" stroke-width="1.9"/>
<line x1="498.4" y1="577.7" x2="498.4" y2="584.7" stroke="#000" stroke-width="1.9"/>
<line x1="515.47" y1="577.7" x2="515.47" y2="581.9" stroke="#000" stroke-width="1.9"/>
<text transform="translate(349.83 603.04) scale(0.85 1)" font-size="13" stroke="#000" stroke-width="0.35" stroke-linejoin="round" fill="#000">0</text>
<g transform="translate(372.15 599.94) scale(0.85 1)" font-size="13" fill="#000" stroke="#000" stroke-width="0.35" stroke-linejoin="round"><text x="0" y="0" xml:space="preserve">0.00</text><path d="M515 0L515 1237L197 1010L197 1180L530 1409L696 1409L696 0Z" transform="translate(25.3 0) scale(0.00635 -0.00635)" stroke-width="55.14"/></g>
<g transform="translate(432.23 599.94) scale(0.85 1)" font-size="13" fill="#000" stroke="#000" stroke-width="0.35" stroke-linejoin="round"><text x="0" y="0" xml:space="preserve">0.0</text><path d="M515 0L515 1237L197 1010L197 1180L530 1409L696 1409L696 0Z" transform="translate(18.07 0) scale(0.00635 -0.00635)" stroke-width="55.14"/></g>
<g transform="translate(491.7 599.94) scale(0.85 1)" font-size="13" fill="#000" stroke="#000" stroke-width="0.35" stroke-linejoin="round"><text x="0" y="0" xml:space="preserve">0.</text><path d="M515 0L515 1237L197 1010L197 1180L530 1409L696 1409L696 0Z" transform="translate(10.84 0) scale(0.00635 -0.00635)" stroke-width="55.14"/></g>
<line x1="78.4" y1="109.8" x2="84.2" y2="109.8" stroke="#000" stroke-width="2"/>
<line x1="78.4" y1="127.5" x2="84.2" y2="127.5" stroke="#000" stroke-width="2"/>
<path d="M91.4 112.56 L92.32 112.73 L93.23 112.91 L94.15 113.11 L95.07 113.32 L95.98 113.55 L96.9 113.79 L97.82 114.05 L98.73 114.33 L99.65 114.64 L100.57 114.96 L101.49 115.31 L102.4 115.69 L103.32 116.09 L104.24 116.52 L105.15 116.99 L106.07 117.49 L106.99 118.02 L107.9 118.59 L108.82 119.21 L109.74 119.86 L110.65 120.57 L111.57 121.32 L112.49 122.13 L113.4 122.99 L114.32 123.91 L115.24 124.89 L116.16 125.94 L117.07 127.06 L117.99 128.26 L118.91 129.52 L119.82 130.88 L120.74 132.31 L121.66 133.83 L122.57 135.45 L123.49 137.16 L124.41 138.97 L125.32 140.89 L126.24 142.9 L127.16 145.03 L128.07 147.27 L128.99 149.62 L129.91 152.08 L130.82 154.65 L131.74 157.34 L132.66 160.14 L133.58 163.05 L134.49 166.07 L135.41 169.19 L136.33 172.41 L137.24 175.72 L138.16 179.11 L139.08 182.58 L139.99 186.11 L140.91 189.7 L141.83 193.33 L142.74 196.98 L143.66 200.65 L144.58 204.32 L145.49 207.97 L146.41 211.58 L147.33 215.15 L148.24 218.65 L149.16 222.08 L150.08 225.4 L151 228.62 L151.91 231.72 L152.83 234.68 L153.75 237.51 L154.66 240.18 L155.58 242.7 L156.5 245.05 L157.41 247.25 L158.33 249.28 L159.25 251.16 L160.16 252.88 L161.08 254.44 L162 255.86 L162.91 257.13 L163.83 258.28 L164.75 259.3 L165.67 260.21 L166.58 261.01 L167.5 261.71 L168.42 262.33 L169.33 262.86 L170.25 263.33 L171.17 263.73 L172.08 264.07 L173 264.37" fill="none" stroke="#000" stroke-width="2.3"/>
<path d="M97.5 131.07 L98.35 131.26 L99.2 131.46 L100.04 131.68 L100.89 131.92 L101.74 132.17 L102.59 132.44 L103.44 132.72 L104.29 133.02 L105.13 133.35 L105.98 133.7 L106.83 134.06 L107.68 134.46 L108.53 134.88 L109.38 135.32 L110.22 135.8 L111.07 136.3 L111.92 136.84 L112.77 137.42 L113.62 138.03 L114.47 138.67 L115.31 139.36 L116.16 140.09 L117.01 140.87 L117.86 141.69 L118.71 142.57 L119.56 143.49 L120.4 144.47 L121.25 145.51 L122.1 146.61 L122.95 147.77 L123.8 148.99 L124.65 150.29 L125.49 151.65 L126.34 153.08 L127.19 154.59 L128.04 156.17 L128.89 157.84 L129.74 159.58 L130.58 161.41 L131.43 163.31 L132.28 165.3 L133.13 167.38 L133.98 169.54 L134.83 171.78 L135.67 174.1 L136.52 176.5 L137.37 178.98 L138.22 181.54 L139.07 184.17 L139.92 186.86 L140.76 189.61 L141.61 192.42 L142.46 195.28 L143.31 198.18 L144.16 201.12 L145.01 204.07 L145.85 207.05 L146.7 210.02 L147.55 212.99 L148.4 215.95 L149.25 218.88 L150.1 221.76 L150.94 224.6 L151.79 227.39 L152.64 230.1 L153.49 232.73 L154.34 235.27 L155.19 237.72 L156.03 240.06 L156.88 242.3 L157.73 244.42 L158.58 246.42 L159.43 248.3 L160.28 250.07 L161.12 251.71 L161.97 253.22 L162.82 254.63 L163.67 255.91 L164.52 257.08 L165.37 258.15 L166.21 259.12 L167.06 259.99 L167.91 260.76 L168.76 261.46 L169.61 262.08 L170.46 262.62 L171.3 263.1 L172.15 263.52 L173 263.89" fill="none" stroke="#000" stroke-width="2" stroke-dasharray="4.5,2.2"/>
<line x1="106.8" y1="114" x2="106.8" y2="129.1" stroke="#000" stroke-width="1.8"/>
<line x1="102.45" y1="129.1" x2="111.15" y2="129.1" stroke="#000" stroke-width="1.8"/>
<line x1="106.8" y1="105" x2="106.8" y2="114" stroke="#000" stroke-width="1.8"/>
<line x1="106.75" y1="114" x2="106.85" y2="114" stroke="#000" stroke-width="1.8"/>
<line x1="116" y1="103.5" x2="116" y2="115.2" stroke="#000" stroke-width="1.8"/>
<line x1="111.4" y1="115.2" x2="120.6" y2="115.2" stroke="#000" stroke-width="1.8"/>
<line x1="125.7" y1="131.7" x2="125.7" y2="147.3" stroke="#000" stroke-width="1.8"/>
<line x1="122.7" y1="147.3" x2="128.7" y2="147.3" stroke="#000" stroke-width="1.8"/>
<line x1="116" y1="134" x2="116" y2="150.8" stroke="#000" stroke-width="1.8"/>
<line x1="111.4" y1="150.8" x2="120.6" y2="150.8" stroke="#000" stroke-width="1.8"/>
<line x1="135" y1="151.9" x2="135" y2="180.8" stroke="#000" stroke-width="1.8"/>
<line x1="130.95" y1="180.8" x2="139.05" y2="180.8" stroke="#000" stroke-width="1.8"/>
<line x1="135" y1="151.9" x2="135" y2="174" stroke="#000" stroke-width="1.8"/>
<line x1="130.95" y1="174" x2="139.05" y2="174" stroke="#000" stroke-width="1.8"/>
<line x1="125.7" y1="153.5" x2="125.7" y2="165.9" stroke="#000" stroke-width="1.8"/>
<line x1="121.6" y1="165.9" x2="129.8" y2="165.9" stroke="#000" stroke-width="1.8"/>
<line x1="144.2" y1="225.8" x2="144.2" y2="238.5" stroke="#000" stroke-width="1.8"/>
<line x1="139.85" y1="238.5" x2="148.55" y2="238.5" stroke="#000" stroke-width="1.8"/>
<line x1="153.3" y1="247.9" x2="153.3" y2="254.6" stroke="#000" stroke-width="1.8"/>
<line x1="149.45" y1="254.6" x2="157.15" y2="254.6" stroke="#000" stroke-width="1.8"/>
<line x1="162.9" y1="257.5" x2="162.9" y2="262.3" stroke="#000" stroke-width="1.8"/>
<line x1="158.85" y1="262.3" x2="166.95" y2="262.3" stroke="#000" stroke-width="1.8"/>
<circle cx="79.5" cy="151.8" r="4" fill="#000"/>
<rect x="75.5" y="151.8" width="8" height="3.9" fill="#000"/>
<circle cx="106.7" cy="105.1" r="4" fill="#000"/>
<circle cx="116" cy="103.5" r="4.1" fill="#000"/>
<polygon points="106.7,110.58 110.8,117.71 102.6,117.71" fill="#000"/>
<circle cx="125.6" cy="132" r="4.1" fill="#000"/>
<polygon points="115.8,130.08 119.9,137.21 111.7,137.21" fill="#000"/>
<circle cx="135" cy="151.9" r="4.1" fill="#000"/>
<polygon points="125.7,149.8 129.8,156.71 121.6,156.71" fill="#000"/>
<polygon points="135,166.44 139.1,172.92 130.9,172.92" fill="#000"/>
<polygon points="143.75,205.76 147.85,213.1 139.65,213.1" fill="#000"/>
<circle cx="144.2" cy="226" r="4.1" fill="#000"/>
<polygon points="153.3,236.58 157.4,243.71 149.2,243.71" fill="#000"/>
<circle cx="153.3" cy="247.9" r="4.1" fill="#000"/>
<circle cx="162.9" cy="257.5" r="4.1" fill="#000"/>
<circle cx="170.6" cy="261.5" r="4" fill="#000"/>
<polygon points="172.5,253.15 177.36,262.87 167.64,262.87" fill="#000"/>
<line x1="262.5" y1="125.5" x2="270.7" y2="125.5" stroke="#000" stroke-width="2"/>
<path d="M273.3 136.12 L274.25 136.16 L275.19 136.2 L276.14 136.24 L277.08 136.29 L278.03 136.34 L278.98 136.4 L279.92 136.46 L280.87 136.52 L281.81 136.59 L282.76 136.67 L283.71 136.74 L284.65 136.83 L285.6 136.92 L286.54 137.02 L287.49 137.12 L288.44 137.23 L289.38 137.35 L290.33 137.48 L291.28 137.62 L292.22 137.77 L293.17 137.92 L294.11 138.09 L295.06 138.28 L296.01 138.47 L296.95 138.68 L297.9 138.9 L298.84 139.14 L299.79 139.4 L300.74 139.67 L301.68 139.97 L302.63 140.28 L303.57 140.62 L304.52 140.98 L305.47 141.36 L306.41 141.78 L307.36 142.22 L308.3 142.69 L309.25 143.19 L310.2 143.73 L311.14 144.31 L312.09 144.92 L313.03 145.58 L313.98 146.28 L314.93 147.03 L315.87 147.82 L316.82 148.67 L317.77 149.58 L318.71 150.55 L319.66 151.57 L320.6 152.67 L321.55 153.83 L322.5 155.06 L323.44 156.38 L324.39 157.77 L325.33 159.24 L326.28 160.8 L327.23 162.46 L328.17 164.21 L329.12 166.05 L330.06 168 L331.01 170.05 L331.96 172.21 L332.9 174.48 L333.85 176.86 L334.79 179.35 L335.74 181.96 L336.69 184.68 L337.63 187.51 L338.58 190.46 L339.52 193.51 L340.47 196.67 L341.42 199.92 L342.36 203.27 L343.31 206.71 L344.26 210.22 L345.2 213.79 L346.15 217.42 L347.09 221.08 L348.04 224.77 L348.99 228.46 L349.93 232.14 L350.88 235.78 L351.82 239.37 L352.77 242.88 L353.72 246.3 L354.66 249.6 L355.61 252.76 L356.55 255.77 L357.5 258.6" fill="none" stroke="#000" stroke-width="2"/>
<path d="M273.3 133.83 L274.25 133.86 L275.2 133.9 L276.16 133.94 L277.11 133.98 L278.06 134.03 L279.01 134.08 L279.96 134.13 L280.91 134.19 L281.87 134.25 L282.82 134.31 L283.77 134.39 L284.72 134.46 L285.67 134.54 L286.62 134.63 L287.58 134.73 L288.53 134.83 L289.48 134.94 L290.43 135.05 L291.38 135.18 L292.33 135.31 L293.29 135.46 L294.24 135.61 L295.19 135.78 L296.14 135.96 L297.09 136.15 L298.04 136.35 L299 136.57 L299.95 136.81 L300.9 137.06 L301.85 137.33 L302.8 137.63 L303.75 137.94 L304.71 138.27 L305.66 138.63 L306.61 139.02 L307.56 139.43 L308.51 139.87 L309.46 140.34 L310.42 140.85 L311.37 141.39 L312.32 141.97 L313.27 142.59 L314.22 143.25 L315.17 143.96 L316.13 144.72 L317.08 145.53 L318.03 146.39 L318.98 147.31 L319.93 148.29 L320.88 149.34 L321.84 150.46 L322.79 151.65 L323.74 152.92 L324.69 154.26 L325.64 155.69 L326.59 157.21 L327.55 158.83 L328.5 160.53 L329.45 162.34 L330.4 164.26 L331.35 166.28 L332.3 168.41 L333.26 170.66 L334.21 173.03 L335.16 175.52 L336.11 178.13 L337.06 180.86 L338.01 183.71 L338.97 186.69 L339.92 189.79 L340.87 193.01 L341.82 196.34 L342.77 199.78 L343.72 203.33 L344.68 206.97 L345.63 210.69 L346.58 214.49 L347.53 218.34 L348.48 222.24 L349.43 226.16 L350.39 230.09 L351.34 234.01 L352.29 237.89 L353.24 241.72 L354.19 245.46 L355.14 249.1 L356.1 252.61 L357.05 255.97 L358 259.16" fill="none" stroke="#7a7a7a" stroke-width="3" stroke-dasharray="6,2.5"/>
<path d="M273.3 130.51 L274.26 130.54 L275.21 130.57 L276.17 130.6 L277.13 130.64 L278.09 130.67 L279.04 130.71 L280 130.76 L280.96 130.81 L281.92 130.86 L282.87 130.91 L283.83 130.97 L284.79 131.04 L285.74 131.11 L286.7 131.18 L287.66 131.26 L288.62 131.35 L289.57 131.45 L290.53 131.55 L291.49 131.66 L292.45 131.78 L293.4 131.9 L294.36 132.04 L295.32 132.19 L296.28 132.35 L297.23 132.52 L298.19 132.71 L299.15 132.91 L300.1 133.13 L301.06 133.36 L302.02 133.61 L302.98 133.88 L303.93 134.18 L304.89 134.49 L305.85 134.83 L306.81 135.19 L307.76 135.58 L308.72 136 L309.68 136.46 L310.63 136.94 L311.59 137.47 L312.55 138.03 L313.51 138.63 L314.46 139.28 L315.42 139.97 L316.38 140.72 L317.34 141.51 L318.29 142.37 L319.25 143.28 L320.21 144.26 L321.17 145.31 L322.12 146.42 L323.08 147.62 L324.04 148.89 L324.99 150.24 L325.95 151.68 L326.91 153.22 L327.87 154.84 L328.82 156.57 L329.78 158.4 L330.74 160.34 L331.7 162.38 L332.65 164.54 L333.61 166.81 L334.57 169.21 L335.52 171.72 L336.48 174.35 L337.44 177.1 L338.4 179.97 L339.35 182.97 L340.31 186.08 L341.27 189.31 L342.23 192.65 L343.18 196.1 L344.14 199.65 L345.1 203.3 L346.06 207.04 L347.01 210.85 L347.97 214.75 L348.93 218.7 L349.88 222.71 L350.84 226.76 L351.8 230.83 L352.76 234.93 L353.71 239.03 L354.67 243.13 L355.63 247.21 L356.59 251.26 L357.54 255.26 L358.5 259.22" fill="none" stroke="#000" stroke-width="2" stroke-dasharray="3.5,2"/>
<line x1="292.7" y1="149" x2="292.7" y2="172.1" stroke="#000" stroke-width="1.8"/>
<line x1="288.3" y1="172.1" x2="297.1" y2="172.1" stroke="#000" stroke-width="1.8"/>
<line x1="314.7" y1="138.4" x2="314.7" y2="132.7" stroke="#000" stroke-width="1.8"/>
<line x1="310.25" y1="132.7" x2="319.15" y2="132.7" stroke="#000" stroke-width="1.8"/>
<line x1="314.7" y1="147.9" x2="314.7" y2="156.2" stroke="#000" stroke-width="1.8"/>
<line x1="310.25" y1="156.2" x2="319.15" y2="156.2" stroke="#000" stroke-width="1.8"/>
<line x1="314.7" y1="162" x2="314.7" y2="168.6" stroke="#000" stroke-width="1.8"/>
<line x1="310.25" y1="168.6" x2="319.15" y2="168.6" stroke="#000" stroke-width="1.8"/>
<line x1="337.5" y1="173.3" x2="337.5" y2="180.9" stroke="#000" stroke-width="1.8"/>
<line x1="333.5" y1="180.9" x2="341.5" y2="180.9" stroke="#000" stroke-width="1.8"/>
<line x1="337.5" y1="186.6" x2="337.5" y2="196.8" stroke="#000" stroke-width="1.8"/>
<line x1="333.5" y1="196.8" x2="341.5" y2="196.8" stroke="#000" stroke-width="1.8"/>
<line x1="262" y1="125.7" x2="270.9" y2="125.7" stroke="#000" stroke-width="1.6"/>
<line x1="266.5" y1="124" x2="266.5" y2="129" stroke="#000" stroke-width="2.4"/>
<polygon points="266.5,115.02 269.8,122.62 263.2,122.62" fill="#000"/>
<circle cx="266.5" cy="121.6" r="3.8" fill="#000"/>
<polygon points="266.5,127.4 271.25,131.9 266.5,136.4 261.75,131.9" fill="#000"/>
<ellipse cx="266.6" cy="132.4" rx="1.6" ry="1.3" fill="#9a9a9a"/>
<circle cx="292.7" cy="140.6" r="3.6" fill="#000"/>
<polygon points="292.7,135.7 297.4,140.2 292.7,144.7 288,140.2" fill="#000"/>
<polygon points="292.7,144.8 297.02,151.71 288.38,151.71" fill="#000"/>
<polygon points="314.7,133.9 319.4,138.4 314.7,142.9 310,138.4" fill="#000"/>
<circle cx="314.7" cy="147.9" r="4" fill="#000"/>
<polygon points="314.7,157.98 319.24,165.11 310.16,165.11" fill="#000"/>
<circle cx="337.5" cy="173.3" r="4" fill="#000"/>
<polygon points="337.5,182.68 341.82,189.81 333.18,189.81" fill="#000"/>
<polygon points="337.5,176.2 341.5,180 337.5,183.8 333.5,180" fill="#000"/>
<circle cx="359.2" cy="259" r="3.8" fill="#000"/>
<polygon points="358.2,254.5 362.2,258.5 358.2,262.5 354.2,258.5" fill="#000"/>
<line x1="408.7" y1="136.3" x2="417.8" y2="136.3" stroke="#000" stroke-width="2" stroke-dasharray="2.2,1.6"/>
<line x1="408.2" y1="144.2" x2="417.8" y2="144.2" stroke="#7a7a7a" stroke-width="3"/>
<line x1="412.5" y1="148.1" x2="417.8" y2="148.1" stroke="#000" stroke-width="2"/>
<line x1="409.6" y1="154" x2="409.6" y2="174.5" stroke="#000" stroke-width="1.8"/>
<line x1="405.25" y1="174.5" x2="413.95" y2="174.5" stroke="#000" stroke-width="1.8"/>
<line x1="409.6" y1="154" x2="409.6" y2="180.3" stroke="#000" stroke-width="1.8"/>
<line x1="405.25" y1="180.3" x2="413.95" y2="180.3" stroke="#000" stroke-width="1.8"/>
<line x1="446.9" y1="132.5" x2="446.9" y2="151.1" stroke="#000" stroke-width="1.8"/>
<line x1="442.6" y1="151.1" x2="451.2" y2="151.1" stroke="#000" stroke-width="1.8"/>
<line x1="446.9" y1="132.5" x2="446.9" y2="201.2" stroke="#000" stroke-width="1.8"/>
<line x1="442.25" y1="201.2" x2="451.55" y2="201.2" stroke="#000" stroke-width="1.8"/>
<line x1="461.8" y1="179.8" x2="461.8" y2="159.6" stroke="#000" stroke-width="1.8"/>
<line x1="457.75" y1="159.6" x2="465.85" y2="159.6" stroke="#000" stroke-width="1.8"/>
<line x1="461.8" y1="179.8" x2="461.8" y2="205.5" stroke="#000" stroke-width="1.8"/>
<line x1="457.75" y1="205.5" x2="465.85" y2="205.5" stroke="#000" stroke-width="1.8"/>
<line x1="461.8" y1="179.8" x2="461.8" y2="212.6" stroke="#000" stroke-width="1.8"/>
<line x1="457.75" y1="212.6" x2="465.85" y2="212.6" stroke="#000" stroke-width="1.8"/>
<line x1="475.5" y1="210" x2="475.5" y2="201.4" stroke="#000" stroke-width="1.8"/>
<line x1="470.8" y1="201.4" x2="480.2" y2="201.4" stroke="#000" stroke-width="1.8"/>
<line x1="475.5" y1="226" x2="475.5" y2="240.5" stroke="#000" stroke-width="1.8"/>
<line x1="471.4" y1="240.5" x2="479.6" y2="240.5" stroke="#000" stroke-width="1.8"/>
<line x1="475.5" y1="226" x2="475.5" y2="247.1" stroke="#000" stroke-width="1.8"/>
<line x1="471.4" y1="247.1" x2="479.6" y2="247.1" stroke="#000" stroke-width="1.8"/>
<path d="M424 155.4 L424.89 155.69 L425.78 155.98 L426.67 156.3 L427.56 156.63 L428.45 156.97 L429.34 157.34 L430.23 157.72 L431.12 158.12 L432.01 158.55 L432.9 159 L433.79 159.46 L434.68 159.96 L435.57 160.47 L436.46 161.01 L437.35 161.58 L438.24 162.18 L439.13 162.8 L440.02 163.46 L440.91 164.14 L441.8 164.86 L442.69 165.6 L443.58 166.38 L444.47 167.2 L445.36 168.05 L446.25 168.93 L447.14 169.86 L448.03 170.82 L448.92 171.82 L449.81 172.85 L450.7 173.93 L451.59 175.04 L452.48 176.2 L453.37 177.4 L454.26 178.63 L455.15 179.91 L456.04 181.23 L456.93 182.58 L457.82 183.98 L458.71 185.42 L459.6 186.89 L460.49 188.4 L461.38 189.95 L462.27 191.53 L463.16 193.15 L464.04 194.79 L464.93 196.47 L465.82 198.17 L466.71 199.9 L467.6 201.66 L468.49 203.43 L469.38 205.23 L470.27 207.04 L471.16 208.86 L472.05 210.69 L472.94 212.54 L473.83 214.38 L474.72 216.23 L475.61 218.08 L476.5 219.92 L477.39 221.75 L478.28 223.58 L479.17 225.39 L480.06 227.18 L480.95 228.96 L481.84 230.72 L482.73 232.45 L483.62 234.16 L484.51 235.84 L485.4 237.49 L486.29 239.11 L487.18 240.69 L488.07 242.24 L488.96 243.76 L489.85 245.23 L490.74 246.67 L491.63 248.07 L492.52 249.43 L493.41 250.76 L494.3 252.04 L495.19 253.28 L496.08 254.48 L496.97 255.64 L497.86 256.76 L498.75 257.84 L499.64 258.88 L500.53 259.88 L501.42 260.85 L502.31 261.77 L503.2 262.66" fill="none" stroke="#7a7a7a" stroke-width="3" stroke-dasharray="6,2.5"/>
<path d="M424 154.77 L424.87 155.04 L425.74 155.32 L426.62 155.62 L427.49 155.93 L428.36 156.25 L429.23 156.58 L430.1 156.93 L430.98 157.29 L431.85 157.67 L432.72 158.06 L433.59 158.47 L434.46 158.9 L435.33 159.34 L436.21 159.8 L437.08 160.28 L437.95 160.78 L438.82 161.3 L439.69 161.84 L440.57 162.4 L441.44 162.98 L442.31 163.59 L443.18 164.21 L444.05 164.87 L444.93 165.55 L445.8 166.25 L446.67 166.98 L447.54 167.74 L448.41 168.52 L449.29 169.34 L450.16 170.18 L451.03 171.06 L451.9 171.96 L452.77 172.9 L453.64 173.87 L454.52 174.87 L455.39 175.91 L456.26 176.98 L457.13 178.08 L458 179.22 L458.88 180.4 L459.75 181.62 L460.62 182.87 L461.49 184.15 L462.36 185.48 L463.24 186.84 L464.11 188.25 L464.98 189.69 L465.85 191.16 L466.72 192.68 L467.6 194.23 L468.47 195.82 L469.34 197.44 L470.21 199.1 L471.08 200.79 L471.96 202.52 L472.83 204.28 L473.7 206.07 L474.57 207.89 L475.44 209.74 L476.31 211.61 L477.19 213.5 L478.06 215.41 L478.93 217.35 L479.8 219.29 L480.67 221.25 L481.55 223.22 L482.42 225.19 L483.29 227.16 L484.16 229.14 L485.03 231.1 L485.91 233.06 L486.78 235 L487.65 236.92 L488.52 238.82 L489.39 240.69 L490.27 242.53 L491.14 244.33 L492.01 246.09 L492.88 247.81 L493.75 249.48 L494.62 251.09 L495.5 252.65 L496.37 254.15 L497.24 255.59 L498.11 256.96 L498.98 258.26 L499.86 259.5 L500.73 260.66 L501.6 261.75" fill="none" stroke="#000" stroke-width="2.2"/>
<path d="M424 144.98 L424.88 145.32 L425.75 145.66 L426.63 146.03 L427.51 146.41 L428.38 146.81 L429.26 147.22 L430.13 147.66 L431.01 148.11 L431.89 148.58 L432.76 149.08 L433.64 149.59 L434.52 150.13 L435.39 150.69 L436.27 151.27 L437.15 151.88 L438.02 152.51 L438.9 153.17 L439.78 153.86 L440.65 154.57 L441.53 155.31 L442.4 156.08 L443.28 156.88 L444.16 157.71 L445.03 158.58 L445.91 159.47 L446.79 160.4 L447.66 161.35 L448.54 162.35 L449.42 163.38 L450.29 164.44 L451.17 165.54 L452.04 166.67 L452.92 167.84 L453.8 169.04 L454.67 170.29 L455.55 171.57 L456.43 172.88 L457.3 174.23 L458.18 175.62 L459.06 177.05 L459.93 178.51 L460.81 180 L461.69 181.53 L462.56 183.1 L463.44 184.69 L464.31 186.32 L465.19 187.98 L466.07 189.68 L466.94 191.4 L467.82 193.14 L468.7 194.92 L469.57 196.71 L470.45 198.53 L471.33 200.38 L472.2 202.24 L473.08 204.11 L473.96 206 L474.83 207.91 L475.71 209.82 L476.58 211.75 L477.46 213.68 L478.34 215.61 L479.21 217.55 L480.09 219.48 L480.97 221.41 L481.84 223.33 L482.72 225.25 L483.6 227.16 L484.47 229.05 L485.35 230.93 L486.22 232.79 L487.1 234.64 L487.98 236.46 L488.85 238.26 L489.73 240.04 L490.61 241.79 L491.48 243.52 L492.36 245.22 L493.24 246.88 L494.11 248.52 L494.99 250.12 L495.87 251.69 L496.74 253.23 L497.62 254.73 L498.49 256.19 L499.37 257.62 L500.25 259.02 L501.12 260.38 L502 261.7" fill="none" stroke="#000" stroke-width="2" stroke-dasharray="2.2,1.6"/>
<rect x="405.3" y="150.7" width="7.8" height="7.8" fill="#000"/>
<polygon points="409.2,145.08 413.63,152.21 404.77,152.21" fill="#000"/>
<circle cx="409.2" cy="149.5" r="3.5" fill="#000"/>
<rect x="442.75" y="128.55" width="7.9" height="7.9" fill="#000"/>
<polygon points="446.7,155.58 451.02,162.71 442.38,162.71" fill="#000"/>
<polygon points="446.7,158.8 451,163 446.7,167.2 442.4,163" fill="#000"/>
<circle cx="446.7" cy="164" r="3.7" fill="#000"/>
<rect x="458.3" y="176.1" width="7.4" height="7.4" fill="#000"/>
<polygon points="462,177.8 465.7,181.5 462,185.2 458.3,181.5" fill="#000"/>
<polygon points="475.8,207.44 479.9,213.92 471.7,213.92" fill="#000"/>
<rect x="472.1" y="222.4" width="6.8" height="6.8" fill="#000"/>
<rect x="486" y="248.4" width="6.8" height="6.8" fill="#000"/>
<polygon points="489.4,247.3 493.1,251 489.4,254.7 485.7,251" fill="#000"/>
<polygon points="504.6,254.3 508.9,258.6 504.6,262.9 500.3,258.6" fill="#000"/>
<circle cx="504.6" cy="258.6" r="3.7" fill="#000"/>
<rect x="501.3" y="255.9" width="6.6" height="6.6" fill="#000"/>
<rect x="89.0" y="430.2" width="1.9" height="1.9" fill="#000"/>
<rect x="89.0" y="437.2" width="1.9" height="1.9" fill="#000"/>
<path d="M97.8 435.18 L99 435.33 L100.2 435.48 L101.39 435.64 L102.59 435.81 L103.79 435.99 L104.99 436.17 L106.18 436.37 L107.38 436.58 L108.58 436.81 L109.78 437.04 L110.98 437.29 L112.17 437.55 L113.37 437.83 L114.57 438.12 L115.77 438.43 L116.96 438.76 L118.16 439.1 L119.36 439.46 L120.56 439.84 L121.76 440.25 L122.95 440.67 L124.15 441.12 L125.35 441.59 L126.55 442.09 L127.74 442.61 L128.94 443.16 L130.14 443.74 L131.34 444.35 L132.53 444.99 L133.73 445.67 L134.93 446.38 L136.13 447.13 L137.33 447.91 L138.52 448.73 L139.72 449.6 L140.92 450.5 L142.12 451.45 L143.31 452.45 L144.51 453.49 L145.71 454.58 L146.91 455.73 L148.11 456.92 L149.3 458.17 L150.5 459.47 L151.7 460.83 L152.9 462.25 L154.09 463.73 L155.29 465.27 L156.49 466.87 L157.69 468.54 L158.89 470.27 L160.08 472.06 L161.28 473.92 L162.48 475.85 L163.68 477.85 L164.87 479.91 L166.07 482.04 L167.27 484.23 L168.47 486.49 L169.67 488.82 L170.86 491.21 L172.06 493.66 L173.26 496.17 L174.46 498.74 L175.65 501.37 L176.85 504.06 L178.05 506.8 L179.25 509.58 L180.44 512.41 L181.64 515.29 L182.84 518.2 L184.04 521.14 L185.24 524.12 L186.43 527.12 L187.63 530.14 L188.83 533.18 L190.03 536.23 L191.22 539.29 L192.42 542.35 L193.62 545.41 L194.82 548.45 L196.02 551.49 L197.21 554.5 L198.41 557.5 L199.61 560.47 L200.81 563.4 L202 566.3 L203.2 569.16 L204.4 571.98" fill="none" stroke="#000" stroke-width="2"/>
<path d="M97.8 444.02 L98.95 444.2 L100.1 444.4 L101.24 444.61 L102.39 444.83 L103.54 445.06 L104.69 445.31 L105.84 445.57 L106.99 445.85 L108.13 446.14 L109.28 446.45 L110.43 446.78 L111.58 447.13 L112.73 447.49 L113.88 447.88 L115.02 448.29 L116.17 448.72 L117.32 449.18 L118.47 449.66 L119.62 450.16 L120.77 450.7 L121.91 451.26 L123.06 451.86 L124.21 452.48 L125.36 453.14 L126.51 453.83 L127.66 454.56 L128.8 455.33 L129.95 456.13 L131.1 456.98 L132.25 457.86 L133.4 458.79 L134.55 459.76 L135.69 460.78 L136.84 461.85 L137.99 462.96 L139.14 464.12 L140.29 465.34 L141.44 466.6 L142.58 467.92 L143.73 469.28 L144.88 470.71 L146.03 472.18 L147.18 473.71 L148.33 475.3 L149.47 476.94 L150.62 478.64 L151.77 480.38 L152.92 482.19 L154.07 484.04 L155.22 485.94 L156.36 487.9 L157.51 489.9 L158.66 491.95 L159.81 494.04 L160.96 496.18 L162.11 498.35 L163.25 500.55 L164.4 502.79 L165.55 505.06 L166.7 507.35 L167.85 509.67 L169 512 L170.14 514.35 L171.29 516.7 L172.44 519.06 L173.59 521.42 L174.74 523.78 L175.89 526.13 L177.03 528.47 L178.18 530.79 L179.33 533.1 L180.48 535.38 L181.63 537.63 L182.78 539.85 L183.92 542.03 L185.07 544.18 L186.22 546.29 L187.37 548.36 L188.52 550.38 L189.67 552.35 L190.81 554.28 L191.96 556.15 L193.11 557.98 L194.26 559.75 L195.41 561.46 L196.56 563.13 L197.7 564.73 L198.85 566.29 L200 567.79" fill="none" stroke="#000" stroke-width="2" stroke-dasharray="5,2.2"/>
<line x1="142.7" y1="439" x2="142.7" y2="428.7" stroke="#000" stroke-width="1.8"/>
<line x1="138.35" y1="428.7" x2="147.05" y2="428.7" stroke="#000" stroke-width="1.8"/>
<line x1="142.7" y1="461" x2="142.7" y2="467.5" stroke="#000" stroke-width="1.8"/>
<line x1="138.35" y1="467.5" x2="147.05" y2="467.5" stroke="#000" stroke-width="1.8"/>
<line x1="160.1" y1="463.5" x2="160.1" y2="456.1" stroke="#000" stroke-width="1.8"/>
<line x1="156.15" y1="456.1" x2="164.05" y2="456.1" stroke="#000" stroke-width="1.8"/>
<line x1="160.1" y1="492" x2="160.1" y2="509.4" stroke="#000" stroke-width="1.8"/>
<line x1="155.9" y1="509.4" x2="164.3" y2="509.4" stroke="#000" stroke-width="1.8"/>
<line x1="179" y1="515.2" x2="179" y2="503.2" stroke="#000" stroke-width="1.8"/>
<line x1="174.6" y1="503.2" x2="183.4" y2="503.2" stroke="#000" stroke-width="1.8"/>
<line x1="178.8" y1="540" x2="178.8" y2="549.4" stroke="#000" stroke-width="1.8"/>
<line x1="174.1" y1="549.4" x2="183.5" y2="549.4" stroke="#000" stroke-width="1.8"/>
<circle cx="89.9" cy="444.4" r="3.9" fill="#000"/>
<rect x="86" y="444.4" width="7.8" height="3.9" fill="#000"/>
<circle cx="142.7" cy="439" r="4.1" fill="#000"/>
<polygon points="142.7,456.52 146.91,464.3 138.49,464.3" fill="#000"/>
<circle cx="160.1" cy="463.5" r="4.1" fill="#000"/>
<polygon points="160.1,487.32 164.31,495.1 155.89,495.1" fill="#000"/>
<circle cx="179" cy="515.2" r="4.1" fill="#000"/>
<polygon points="178.8,535.32 183.01,543.1 174.59,543.1" fill="#000"/>
<rect x="192.4" y="556.9" width="7.8" height="7.8" fill="#000"/>
<circle cx="204.4" cy="563.6" r="4.2" fill="#000"/>
<line x1="372.3" y1="427.1" x2="376.3" y2="427.1" stroke="#000" stroke-width="2"/>
<path d="M383.6 426.66 L384.83 426.89 L386.07 427.14 L387.3 427.39 L388.53 427.67 L389.77 427.95 L391 428.26 L392.24 428.57 L393.47 428.91 L394.7 429.26 L395.94 429.64 L397.17 430.03 L398.4 430.44 L399.64 430.88 L400.87 431.33 L402.11 431.82 L403.34 432.32 L404.57 432.86 L405.81 433.42 L407.04 434 L408.27 434.62 L409.51 435.27 L410.74 435.96 L411.98 436.68 L413.21 437.43 L414.44 438.22 L415.68 439.05 L416.91 439.92 L418.14 440.83 L419.38 441.79 L420.61 442.79 L421.84 443.84 L423.08 444.94 L424.31 446.09 L425.55 447.29 L426.78 448.54 L428.01 449.86 L429.25 451.22 L430.48 452.65 L431.71 454.14 L432.95 455.69 L434.18 457.3 L435.42 458.97 L436.65 460.72 L437.88 462.52 L439.12 464.4 L440.35 466.34 L441.58 468.35 L442.82 470.43 L444.05 472.58 L445.29 474.79 L446.52 477.07 L447.75 479.41 L448.99 481.82 L450.22 484.28 L451.45 486.81 L452.69 489.39 L453.92 492.02 L455.16 494.69 L456.39 497.41 L457.62 500.17 L458.86 502.96 L460.09 505.77 L461.32 508.6 L462.56 511.44 L463.79 514.29 L465.02 517.12 L466.26 519.94 L467.49 522.74 L468.73 525.5 L469.96 528.21 L471.19 530.87 L472.43 533.47 L473.66 536 L474.89 538.44 L476.13 540.79 L477.36 543.04 L478.6 545.18 L479.83 547.21 L481.06 549.12 L482.3 550.9 L483.53 552.56 L484.76 554.08 L486 555.48 L487.23 556.75 L488.47 557.89 L489.7 558.91 L490.93 559.81 L492.17 560.6 L493.4 561.28" fill="none" stroke="#000" stroke-width="2.2"/>
<path d="M383.6 427.33 L384.83 427.49 L386.07 427.65 L387.3 427.82 L388.53 428 L389.77 428.19 L391 428.4 L392.24 428.61 L393.47 428.83 L394.7 429.07 L395.94 429.31 L397.17 429.57 L398.4 429.85 L399.64 430.13 L400.87 430.44 L402.11 430.75 L403.34 431.09 L404.57 431.44 L405.81 431.81 L407.04 432.2 L408.27 432.61 L409.51 433.04 L410.74 433.49 L411.98 433.96 L413.21 434.46 L414.44 434.99 L415.68 435.54 L416.91 436.11 L418.14 436.72 L419.38 437.36 L420.61 438.02 L421.84 438.72 L423.08 439.46 L424.31 440.23 L425.55 441.03 L426.78 441.88 L428.01 442.76 L429.25 443.69 L430.48 444.66 L431.71 445.68 L432.95 446.74 L434.18 447.85 L435.42 449.01 L436.65 450.22 L437.88 451.49 L439.12 452.81 L440.35 454.19 L441.58 455.63 L442.82 457.12 L444.05 458.68 L445.29 460.3 L446.52 461.99 L447.75 463.74 L448.99 465.56 L450.22 467.45 L451.45 469.4 L452.69 471.43 L453.92 473.52 L455.16 475.69 L456.39 477.93 L457.62 480.23 L458.86 482.61 L460.09 485.05 L461.32 487.56 L462.56 490.14 L463.79 492.78 L465.02 495.48 L466.26 498.24 L467.49 501.05 L468.73 503.91 L469.96 506.82 L471.19 509.77 L472.43 512.75 L473.66 515.76 L474.89 518.8 L476.13 521.84 L477.36 524.9 L478.6 527.95 L479.83 530.99 L481.06 534.01 L482.3 537.01 L483.53 539.96 L484.76 542.87 L486 545.72 L487.23 548.5 L488.47 551.2 L489.7 553.82 L490.93 556.34 L492.17 558.75 L493.4 561.06" fill="none" stroke="#000" stroke-width="2.2" stroke-dasharray="4.5,2.2"/>
<line x1="425.4" y1="448" x2="425.4" y2="439.2" stroke="#000" stroke-width="1.8"/>
<line x1="421.85" y1="439.2" x2="428.95" y2="439.2" stroke="#000" stroke-width="1.8"/>
<line x1="441.6" y1="466.1" x2="441.6" y2="481.6" stroke="#000" stroke-width="1.8"/>
<line x1="437.25" y1="481.6" x2="445.95" y2="481.6" stroke="#000" stroke-width="1.8"/>
<line x1="459" y1="478.8" x2="459" y2="462.7" stroke="#000" stroke-width="1.8"/>
<line x1="455.05" y1="462.7" x2="462.95" y2="462.7" stroke="#000" stroke-width="1.8"/>
<line x1="459.3" y1="505" x2="459.3" y2="521" stroke="#000" stroke-width="1.8"/>
<line x1="454.7" y1="521" x2="463.9" y2="521" stroke="#000" stroke-width="1.8"/>
<circle cx="367.5" cy="425" r="3.8" fill="#000"/>
<rect x="364.8" y="423.1" width="7" height="7" fill="#000"/>
<circle cx="425.2" cy="447" r="4" fill="#000"/>
<polygon points="425.2,443.69 429.52,451.89 420.88,451.89" fill="#000"/>
<rect x="421.9" y="445.7" width="6.6" height="6.6" fill="#000"/>
<polygon points="441.6,445.78 445.7,453.45 437.5,453.45" fill="#000"/>
<circle cx="441.6" cy="466.1" r="4.1" fill="#000"/>
<polygon points="459,474.58 463.1,482.25 454.9,482.25" fill="#000"/>
<circle cx="459.3" cy="505" r="4.2" fill="#000"/>
<polygon points="477.1,522.78 481.2,530.45 473,530.45" fill="#000"/>
<circle cx="476.4" cy="542" r="4.2" fill="#000"/>
<circle cx="493.4" cy="560.5" r="4.2" fill="#000"/>
</svg>
</body></html>
